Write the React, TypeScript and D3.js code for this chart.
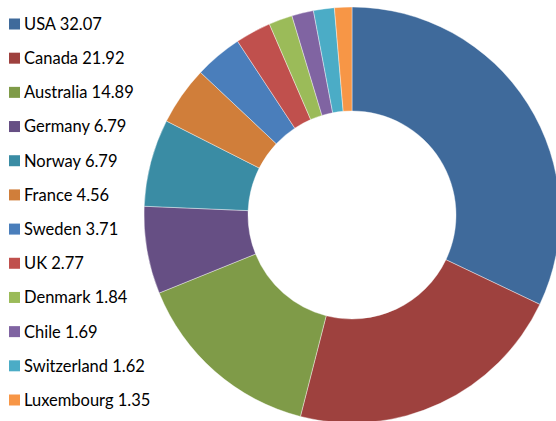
import React from "react";
import * as d3 from "d3";

const countries = ["USA", "Canada", "Australia", "Germany", "Norway", "France", "Sweden", "UK", "Denmark", "Chile", "Switzerland", "Luxembourg"];
const values = [32.07, 21.92, 14.89, 6.79, 6.79, 4.56, 3.71, 2.77, 1.84, 1.69, 1.62, 1.35];
const colors = ["#3F6A9B", "#9E413E", "#7F9B48", "#664F84", "#3A8CA4", "#D07E3A", "#4A7EBB", "#C0504D", "#9BBB59", "#8064A2", "#4BACC6", "#F79646"];

export default function App() {
  const width = 556, height = 421;
  const cx = 352, cy = 215, R = 208, r = 104;
  const pie = d3.pie<number>().sort(null).value((d) => d);
  const arcs = pie(values);
  const arc = d3.arc<d3.PieArcDatum<number>>().innerRadius(r).outerRadius(R);
  const legendY = d3.scalePoint<number>().domain(d3.range(countries.length)).range([24, 400]);
  return (
    <svg width={width} height={height} style={{ position: "absolute", left: 0, top: 0 }}>
      <rect width={width} height={height} fill="#fff" />
      <g transform={`translate(${cx},${cy})`}>
        {arcs.map((a, i) => (
          <path key={i} d={arc(a) || ""} fill={colors[i]} stroke="#fff" strokeWidth={0.4} />
        ))}
      </g>
      <g>
        {countries.map((c, i) => (
          <g key={c} transform={`translate(0,${legendY(i)})`}>
            <rect x={9} y={-5.5} width={11} height={11} fill={colors[i]} />
            <text x={24} y={0} dy="0.36em" fontFamily="Lato, 'Open Sans', sans-serif" fontSize={16.5} fill="#000">
              {`${c} ${values[i].toFixed(2)}`}
            </text>
          </g>
        ))}
      </g>
    </svg>
  );
}
